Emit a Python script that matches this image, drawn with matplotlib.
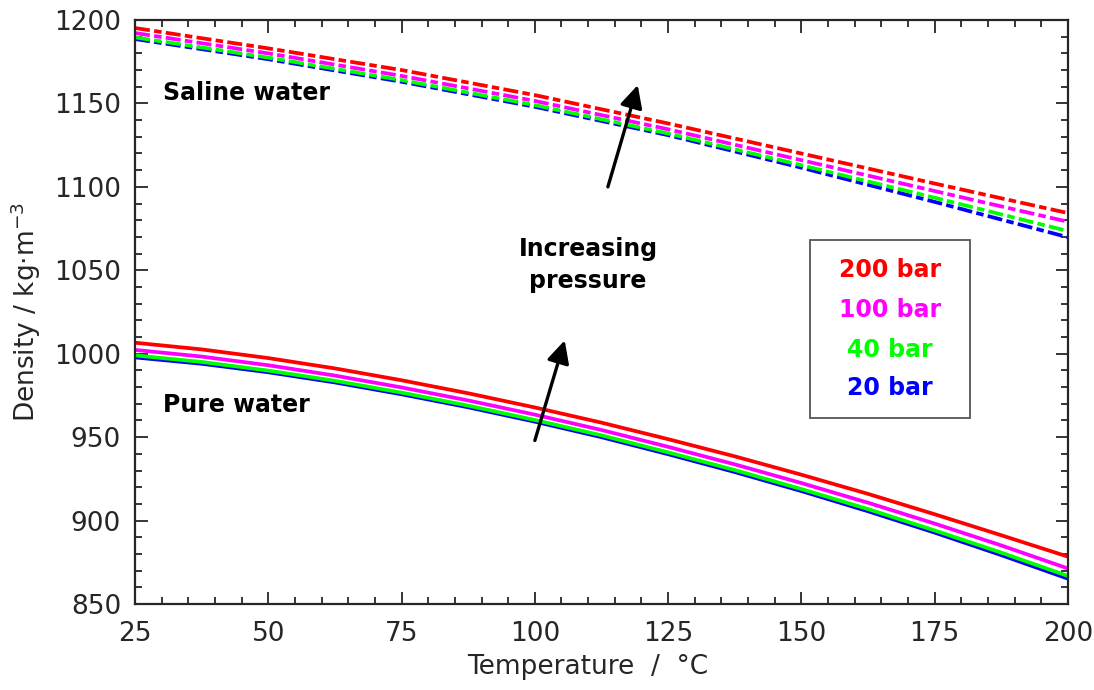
import matplotlib
matplotlib.use("Agg")
import matplotlib.pyplot as plt
from matplotlib.patches import Rectangle
from matplotlib.ticker import MultipleLocator

plt.rcParams['font.family'] = ['DejaVu Sans']

pressures = ["200 bar", "100 bar", "40 bar", "20 bar"]
colors = ["#FF0000", "#FF00FF", "#00FF00", "#0000FF"]

temperature_pure = [25, 37.5, 50, 62.5, 75, 87.5, 100, 112.5, 125, 137.5, 150, 162.5, 175, 187.5, 200]
pure_200 = [1006.6, 1002.6, 997.4, 991.2, 984.1, 976.3, 967.8, 958.7, 948.8, 938.5, 927.5, 916.0, 903.8, 891.2, 878.4]
pure_100 = [1002.3, 998.3, 993.1, 986.9, 979.8, 972.0, 963.5, 954.3, 944.2, 933.7, 922.5, 910.7, 898.2, 885.1, 871.3]
pure_40 = [999.0, 995.1, 989.9, 983.8, 976.7, 968.9, 960.3, 951.1, 940.9, 930.3, 918.9, 906.9, 894.1, 880.8, 866.8]
pure_20 = [997.8, 994.0, 988.9, 982.8, 975.7, 967.9, 959.3, 950.0, 939.8, 929.1, 917.7, 905.6, 892.8, 879.3, 865.2]

temperature_saline = [25, 50, 75, 100, 125, 150, 175, 200]
saline_200 = [1195.2, 1183.0, 1170.0, 1155.0, 1138.0, 1120.0, 1102.0, 1084.3]
saline_100 = [1192.2, 1180.0, 1166.5, 1151.5, 1134.5, 1116.0, 1097.5, 1079.1]
saline_40 = [1189.6, 1177.5, 1164.0, 1149.0, 1132.0, 1113.0, 1093.5, 1073.5]
saline_20 = [1188.6, 1176.5, 1163.0, 1148.0, 1131.0, 1111.5, 1091.0, 1069.8]

pure = [pure_200, pure_100, pure_40, pure_20]
saline = [saline_200, saline_100, saline_40, saline_20]

fig = plt.figure(figsize=(10.94, 6.90), dpi=100)
ax = fig.add_axes([0.1234, 0.1246, 0.8528, 0.8464])

dash = (0, (4.0, 1.15, 2.0, 1.15))
for i in range(3, -1, -1):
    ax.plot(temperature_saline, saline[i], color=colors[i], lw=2.7, linestyle=dash)
    ax.plot(temperature_pure, pure[i], color=colors[i], lw=2.7, solid_capstyle='butt')

ax.set_xlim(25, 200)
ax.set_ylim(850, 1200)
ax.xaxis.set_major_locator(MultipleLocator(25))
ax.xaxis.set_minor_locator(MultipleLocator(5))
ax.yaxis.set_major_locator(MultipleLocator(50))
ax.yaxis.set_minor_locator(MultipleLocator(10))
tc = '#262626'
ax.tick_params(which='both', direction='in', top=True, right=True, colors=tc,
               labelsize=19, width=1.3)
ax.tick_params(which='major', length=9)
ax.tick_params(axis='x', which='major', pad=12)
ax.tick_params(axis='y', which='major', pad=10)
ax.tick_params(which='minor', length=5)
for s in ax.spines.values():
    s.set_color(tc)
    s.set_linewidth(1.6)

ax.set_xlabel("Temperature  /  \u00b0C", fontsize=19, color=tc)
ax.xaxis.set_label_coords(0.485, -0.085)
ax.set_ylabel("Density / kg\u00b7m$^{-3}$", fontsize=19, color=tc, labelpad=8)

ax.text(30.3, 1156, "Saline water", fontsize=17, fontweight='bold', va='center', ha='left')
ax.text(30.3, 969, "Pure water", fontsize=17, fontweight='bold', va='center', ha='left')
ax.text(110, 1053, "Increasing\npressure", fontsize=17, fontweight='bold',
        va='center', ha='center', linespacing=1.4)

arrow = dict(arrowstyle='-|>', lw=2.4, color='k', mutation_scale=34, shrinkA=0, shrinkB=0)
ax.annotate("", xy=(119.3, 1161), xytext=(113.7, 1100), arrowprops=arrow)
ax.annotate("", xy=(105.6, 1008), xytext=(100, 948), arrowprops=arrow)

ax.add_patch(Rectangle((0.7235, 0.318), 0.1715, 0.305, transform=ax.transAxes,
                       fill=False, ec='#555555', lw=1.3, zorder=5))
ys = [0.572, 0.503, 0.435, 0.370]
for lab, c, y in zip(pressures, colors, ys):
    ax.text(0.809, y, lab, color=c, fontsize=17, fontweight='bold',
            ha='center', va='center', transform=ax.transAxes)

fig.savefig("out.png", dpi=100)
